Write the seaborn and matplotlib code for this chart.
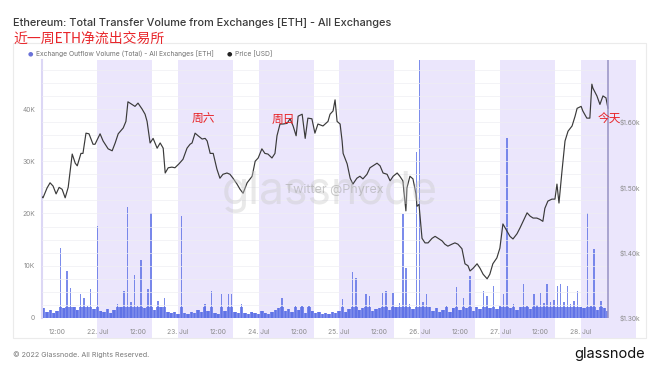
import matplotlib
matplotlib.use("Agg")
import matplotlib.pyplot as plt
import seaborn as sns
import numpy as np
import pandas as pd
from matplotlib.patches import Rectangle
from matplotlib.ticker import MultipleLocator

# hours counted from 21 Jul 00:00
price_hours = [7.2, 7.8, 9.0, 9.9, 10.8, 11.7, 12.6, 13.5, 14.4, 15.3, 16.5, 17.4, 18.0, 19.1, 19.7,
               20.6, 21.5, 22.7, 23.3, 24.8, 25.7, 27.2, 28.4, 29.3, 30.2, 31.7, 32.5, 33.1, 34.3, 35.2,
               36.1, 37.3, 38.2, 38.8, 39.7, 40.6, 41.8, 42.7, 43.6, 44.2, 45.1, 46.2, 47.1, 48.3, 49.5,
               50.7, 51.6, 52.2, 53.1, 54.0, 55.2, 56.1, 56.7, 57.6, 58.5, 59.6, 60.5, 61.4, 62.6, 63.5,
               64.4, 65.6, 66.5, 67.4, 68.6, 70.1, 71.0, 71.9, 73.0, 73.9, 74.8, 76.0, 76.9, 77.5, 78.4,
               79.3, 80.5, 81.4, 82.3, 83.2, 83.8, 85.0, 85.9, 86.7, 87.9, 88.8, 89.7, 91.2, 92.7, 93.3,
               94.2, 94.8, 95.4, 96.3, 96.9, 97.2, 98.4, 99.3, 100.1, 101.3, 102.2, 103.1, 104.3, 105.2,
               106.1, 107.3, 108.2, 109.1, 110.3, 111.2, 112.1, 113.3, 114.1, 115.0, 115.9, 116.2, 117.1,
               118.0, 118.9, 119.2, 119.8, 120.7, 121.6, 122.5, 123.7, 124.6, 125.5, 126.7, 127.5, 128.4,
               129.6, 130.5, 131.4, 132.6, 133.5, 134.4, 135.0, 135.9, 137.1, 138.0, 138.9, 140.1, 140.9,
               141.8, 143.0, 143.9, 144.8, 146.0, 146.9, 147.8, 149.0, 149.9, 150.8, 152.0, 152.9, 153.8,
               154.9, 155.8, 156.7, 157.3, 158.2, 159.4, 160.3, 160.9, 161.5, 162.4, 163.3, 164.2, 165.4,
               166.3, 166.9, 168.1, 168.6, 169.8, 170.7, 171.3, 171.6, 172.8, 173.7, 174.6, 175.5, 176.1]
price_usd = [1487, 1484, 1499, 1507, 1502, 1490, 1500, 1497, 1484, 1500, 1551, 1537, 1533, 1552, 1552,
             1583, 1582, 1566, 1566, 1582, 1571, 1559, 1556, 1568, 1582, 1591, 1601, 1631, 1627, 1624,
             1629, 1620, 1612, 1601, 1568, 1575, 1560, 1568, 1560, 1522, 1530, 1531, 1530, 1536, 1543,
             1560, 1566, 1568, 1583, 1579, 1574, 1575, 1571, 1552, 1552, 1528, 1514, 1520, 1522, 1520,
             1514, 1505, 1497, 1491, 1507, 1517, 1540, 1545, 1559, 1552, 1551, 1545, 1552, 1579, 1597,
             1597, 1598, 1605, 1594, 1579, 1609, 1612, 1575, 1606, 1605, 1583, 1597, 1594, 1601, 1612,
             1617, 1634, 1601, 1597, 1571, 1552, 1536, 1514, 1505, 1514, 1517, 1513, 1520, 1530,
             1533, 1537, 1533, 1522, 1520, 1510, 1517, 1522, 1517, 1510, 1464, 1499, 1517,
             1513, 1490, 1471, 1474, 1422, 1415, 1415, 1422, 1425, 1422, 1418, 1413, 1410,
             1413, 1415, 1413, 1406, 1383, 1380, 1372, 1376, 1383, 1376, 1367, 1360, 1367,
             1383, 1392, 1407, 1444, 1433, 1425, 1421, 1429, 1438, 1448, 1461, 1456, 1453,
             1453, 1451, 1448, 1468, 1479, 1482, 1482, 1505, 1476, 1525, 1571, 1586, 1594,
             1609, 1621, 1624, 1617, 1606, 1606, 1658, 1652, 1640, 1627, 1640, 1637, 1621]

# hourly outflow volume (thousand ETH), hours 7 .. 176
vol_start_hour = 7
outflow_k = [1.8, 2.0, 1.2, 1.6, 1.0, 1.4, 13.5, 1.9, 9.0, 5.8, 2.2, 1.5, 4.6, 3.8, 2.4, 5.6, 1.7,
             17.7, 1.3, 1.1, 1.8, 0.9, 1.5, 2.6, 2.2, 5.2, 21.3, 3.0, 8.3, 2.4, 11.2, 1.9, 5.6, 20.2, 1.6, 3.3, 2.1, 3.8, 1.2, 0.9, 1.1,
             0.8, 19.6, 1.0, 0.7, 1.2, 0.9, 1.5, 1.1, 2.7, 1.3, 5.2, 1.0, 0.8, 4.6, 1.4, 4.6, 4.6, 1.1, 0.9, 2.7, 1.0, 0.7, 1.2, 0.9,
             0.8, 1.3, 1.0, 0.7, 1.1, 1.6, 1.9, 3.8, 1.4, 1.8, 1.2, 2.3, 1.5, 2.3, 1.0, 2.3, 1.3, 0.9, 1.1, 0.8, 1.0, 0.7, 1.2, 0.9,
             1.4, 3.6, 1.2, 1.8, 8.8, 7.7, 1.5, 1.9, 4.6, 4.2, 1.3, 1.7, 2.0, 4.8, 5.2, 1.6, 4.8, 2.2, 2.9, 20.0, 9.6, 2.6, 1.8, 32.0,
             52.0, 3.1, 4.6, 2.2, 1.4, 1.9, 1.1, 1.6, 2.3, 1.2, 2.0, 6.0, 1.5, 3.8, 1.9, 8.1, 1.4, 2.2, 1.7, 5.2, 4.2, 2.0, 6.2, 1.8,
             2.4, 4.6, 34.6, 1.9, 2.6, 1.5, 2.1, 6.5, 2.3, 1.7, 4.6, 2.5, 4.8, 2.8, 6.5, 3.0, 3.4, 6.2, 6.5, 3.1, 6.2, 2.7, 3.3, 5.2,
             2.2, 1.9, 20.2, 2.4, 13.3, 1.6, 3.3, 2.0, 1.4]

tick_hours = [12, 24, 36, 48, 60, 72, 84, 96, 108, 120, 132, 144, 156, 168]
tick_labels = ["12:00", "22. Jul", "12:00", "23. Jul", "12:00", "24. Jul", "12:00",
               "25. Jul", "12:00", "26. Jul", "12:00", "27. Jul", "12:00", "28. Jul"]
band_starts = [24, 48, 72, 96, 120, 144, 168]

price = pd.DataFrame({"hour": price_hours, "usd": price_usd})
vol = pd.DataFrame({"hour": range(vol_start_hour, vol_start_hour + len(outflow_k)),
                    "eth": [v * 1000 for v in outflow_k]})

sns.set_style("white")
plt.rcParams["font.family"] = ["Inter", "Noto Sans CJK SC", "DejaVu Sans"]
cjk = ["Noto Sans CJK SC", "DejaVu Sans"]

fig = plt.figure(figsize=(6.6, 3.72), dpi=100)
fig.patch.set_facecolor("white")

# card frame (behind the axes)
fig.patches.append(Rectangle((13 / 660, 1 - 338 / 372), 633 / 660, 295 / 372,
                             transform=fig.transFigure, facecolor="white",
                             edgecolor="#ebebeb", lw=0.8, zorder=-5))

ax = fig.add_axes([42 / 660, 1 - 318 / 372, 568 / 660, 258 / 372])
ax.set_facecolor("none")
ax2 = ax.twinx()

for s in band_starts:
    ax.axvspan(s, s + 16.4, ymin=-20 / 258, ymax=1, color="#ebe6fc", lw=0,
               zorder=0, clip_on=False)

# dense low part of the volume, then thin spikes on top
ax.fill_between(vol["hour"], np.minimum(vol["eth"], 2200), step="mid",
                color="#5b6fe6", alpha=0.8, lw=0, zorder=2)
ax.bar(vol["hour"], vol["eth"], width=0.45, color="#5b6fe6", alpha=0.8, lw=0, zorder=2)
ax.set_ylim(0, 49600)
ax.set_xlim(7.5, 176.7)

sns.lineplot(data=price, x="hour", y="usd", ax=ax2, color="#3a3a3a", lw=0.85, zorder=3)
ax2.set_ylim(1300, 1695)
ax2.set_xlim(7.5, 176.7)
ax2.axvline(price_hours[-1], color="#9e98c8", lw=1.2, zorder=4)

ax.set_yticks([0, 10000, 20000, 30000, 40000])
ax.set_yticklabels(["0", "10K", "20K", "30K", "40K"])
ax2.set_yticks([1300, 1400, 1500, 1600])
ax2.set_yticklabels(["$1.30k", "$1.40k", "$1.50k", "$1.60k"])
ax2.yaxis.set_minor_locator(MultipleLocator(20))
ax2.grid(which="both", axis="y", color="#eeeef3", lw=0.5)
ax2.set_axisbelow(True)
ax.set_xticks(tick_hours)
ax.set_xticklabels(tick_labels)
for a in (ax, ax2):
    a.set_xlabel("")
    a.set_ylabel("")
    a.tick_params(axis="both", which="both", length=0, labelsize=4.8, labelcolor="#8a8a8a")
    for sp in a.spines.values():
        sp.set_visible(False)
ax.tick_params(axis="y", pad=5)
ax2.tick_params(axis="y", pad=7)
ax.tick_params(axis="x", pad=8)
ax.spines["left"].set_visible(True)
ax.spines["left"].set_color("#dcd7f5")
ax.spines["left"].set_linewidth(1.5)

# watermark
fig.text(330 / 660, 1 - 192 / 372, "glassnode", fontsize=32, color="#c8c8c8",
         alpha=0.4, ha="center", va="center")
fig.text(334 / 660, 1 - 190 / 372, "Twitter @Phyrex", fontsize=9, color="#a8a8a8",
         alpha=0.6, ha="center", va="center")

# header
fig.text(13 / 660, 1 - 23 / 372, "Ethereum: Total Transfer Volume from Exchanges [ETH] - All Exchanges",
         fontsize=7.9, color="#3a3a3a", ha="left", va="center", fontweight="medium")
fig.text(13 / 660, 1 - 39 / 372, "近一周ETH净流出交易所", family=cjk, fontsize=10,
         color="#e8262b", ha="left", va="center")
fig.text(30 / 660, 1 - 54 / 372, "●", family=["DejaVu Sans"], fontsize=4.5, color="#6a72d8",
         ha="center", va="center")
fig.text(36 / 660, 1 - 54 / 372, "Exchange Outflow Volume (Total) - All Exchanges [ETH]",
         fontsize=4.8, color="#707070", ha="left", va="center")
fig.text(229 / 660, 1 - 54 / 372, "●", family=["DejaVu Sans"], fontsize=4.5, color="#222222",
         ha="center", va="center")
fig.text(235 / 660, 1 - 54 / 372, "Price [USD]", fontsize=4.8, color="#707070",
         ha="left", va="center")

# notes
for label, xp, yp in [("周六", 203, 119), ("周日", 283, 119), ("今天", 609, 119)]:
    fig.text(xp / 660, 1 - yp / 372, label, family=cjk, fontsize=8.5, color="#e8262b",
             ha="center", va="center", zorder=10)

# footer
fig.text(13 / 660, 1 - 355 / 372, "© 2022 Glassnode. All Rights Reserved.", fontsize=5.2,
         color="#7a7a7a", ha="left", va="center")
fig.text(645 / 660, 1 - 354 / 372, "glassnode", fontsize=10.5, color="#111111",
         ha="right", va="center")

fig.savefig("out.png", dpi=100)
